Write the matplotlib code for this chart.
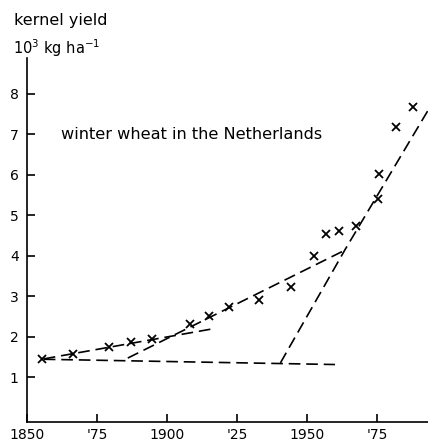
import matplotlib
matplotlib.use("Agg")
import matplotlib.pyplot as plt

# observed yields (crosses)
years = [1855.3, 1866.4, 1879.4, 1887.1, 1894.5, 1908.2, 1915.0, 1922.1, 1932.8,
         1944.3, 1952.6, 1956.8, 1961.4, 1967.5, 1975.5, 1975.8, 1981.7, 1987.9]
yields = [1.44, 1.58, 1.75, 1.87, 1.95, 2.31, 2.51, 2.72, 2.90,
          3.23, 3.99, 4.53, 4.61, 4.72, 5.39, 6.02, 7.17, 7.67]

# dashed trend lines
base_x = [1856, 1960]
base_y = [1.44, 1.31]
trend1_x = [1856, 1917]
trend1_y = [1.45, 2.20]
trend2_x = [1886, 1964]
trend2_y = [1.47, 4.15]
trend3_x = [1940.5, 1963.6, 1993.5]
trend3_y = [1.35, 4.15, 7.62]

xticks = [1850, 1875, 1900, 1925, 1950, 1975]
xticklabels = ["1850", "'75", "1900", "'25", "1950", "'75"]
yticks = [1, 2, 3, 4, 5, 6, 7, 8]

fig = plt.figure(figsize=(4.28, 4.41), dpi=100)
ax = fig.add_axes([0.063, 0.043, 0.937, 0.8255])

dash = dict(color="black", lw=1.2, ls=(0, (7, 3.5)))
ax.plot(base_x, base_y, **dash)
ax.plot(trend1_x, trend1_y, **dash)
ax.plot(trend2_x, trend2_y, **dash)
ax.plot(trend3_x, trend3_y, **dash)
ax.plot(years, yields, ls="none", marker="x", ms=5.5, mew=1.3, color="black")

ax.set_xlim(1850.4, 1993.2)
ax.set_ylim(-0.11, 8.88)
ax.set_xticks(xticks)
ax.set_xticklabels(xticklabels)
ax.set_yticks(yticks)
for s in ["top", "right"]:
    ax.spines[s].set_visible(False)
for s in ["left", "bottom"]:
    ax.spines[s].set_linewidth(1.2)
ax.tick_params(axis="both", direction="in", length=6, width=1.2, labelsize=10)
ax.tick_params(axis="y", pad=6)
ax.tick_params(axis="x", pad=4)

fig.text(0.033, 0.953, "kernel yield", fontsize=11.5, va="center", ha="left")
fig.text(0.03, 0.891, "10$^3$ kg ha$^{-1}$", fontsize=10.5, va="center", ha="left")
ax.text(1862, 7, "winter wheat in the Netherlands", fontsize=11.6, va="center", ha="left")

fig.savefig("out.png", dpi=100)
